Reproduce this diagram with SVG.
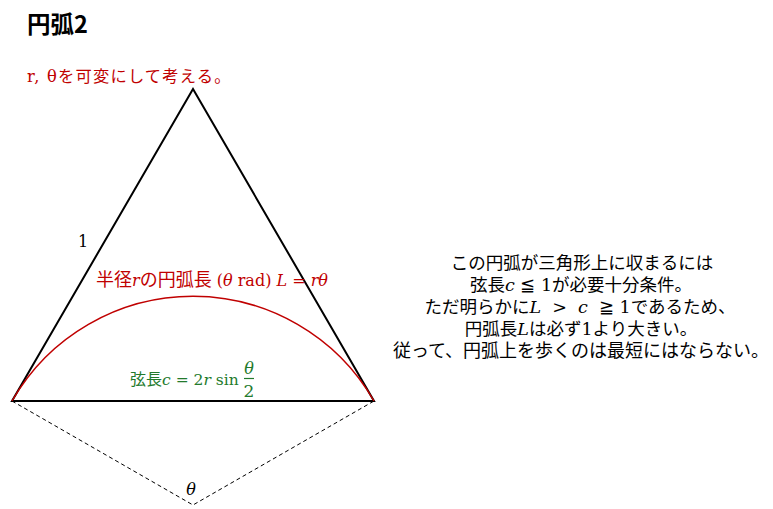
<svg xmlns="http://www.w3.org/2000/svg" width="773" height="509" viewBox="0 0 773 509">
<style>
.jp{font-family:"Noto Sans CJK JP","Noto Sans",sans-serif;}
.m{font-family:"DejaVu Serif","Liberation Serif",serif;font-style:italic;}
.mr{font-family:"DejaVu Serif","Liberation Serif",serif;font-style:normal;}
.red{fill:#c00000;}
.grn{fill:#237a2c;}
.edge{stroke:#000;stroke-width:2;fill:none;}
.dash{stroke:#000;stroke-width:1;fill:none;stroke-dasharray:4 3;}
.arc{stroke:#c00000;stroke-width:1.5;fill:none;}
</style>
<rect width="773" height="509" fill="#fff"/>
<g id="title"><text x="27" y="33" class="jp" font-size="23.5" font-weight="bold">円弧2</text></g>
<g id="note-top"><text x="27" y="82" font-size="16.3" class="red" letter-spacing="1.2"><tspan class="mr">r,&#160;θ</tspan><tspan class="jp">を可変にして考える。</tspan></text></g>
<g id="connectors">
<path class="edge" d="M12,401 L193,89 L374,401 Z"/>
<path class="dash" d="M12,401 L193,505 L374,401"/>
<path class="arc" d="M12,401 A208.75,208.75 0 0 1 374,401"/>
</g>
<g id="side-label"><text x="83" y="247" font-size="16" class="mr" text-anchor="middle">1</text></g>
<g id="arc-label"><text x="96" y="286" font-size="18" class="red"><tspan class="jp">半径</tspan><tspan class="m" font-size="16">r</tspan><tspan class="jp">の円弧長</tspan><tspan class="mr" font-size="16">&#160;(</tspan><tspan class="m" font-size="16">θ</tspan><tspan class="mr" font-size="16">&#160;rad)&#160;</tspan><tspan class="m" font-size="16">L</tspan><tspan class="mr" font-size="16">&#160;=&#160;</tspan><tspan class="m" font-size="16">rθ</tspan></text></g>
<g id="chord-label">
<text x="130" y="385" font-size="16" class="grn"><tspan class="jp">弦長</tspan><tspan class="m" font-size="15.5">c</tspan><tspan class="mr" font-size="15.5">&#160;=&#160;2</tspan><tspan class="m" font-size="15.5">r</tspan><tspan class="mr" font-size="15.5">&#160;sin</tspan></text>
<text x="249" y="374" font-size="16" class="grn m" text-anchor="middle">θ</text>
<line x1="244" y1="378.5" x2="254" y2="378.5" stroke="#237a2c" stroke-width="1.2"/>
<text x="249" y="397" font-size="17" class="grn mr" text-anchor="middle">2</text>
</g>
<g id="angle-label"><text x="191" y="495" font-size="16" class="m" text-anchor="middle">θ</text></g>
<g id="explanation" font-size="17.5" text-anchor="middle">
<text x="582" y="269" class="jp">この円弧が三角形上に収まるには</text>
<text x="581" y="291"><tspan class="jp">弦長</tspan><tspan class="m">c</tspan><tspan class="mr">&#160;≦&#160;1</tspan><tspan class="jp">が必要十分条件。</tspan></text>
<text x="580" y="313"><tspan class="jp">ただ明らかに</tspan><tspan class="m">L</tspan><tspan class="mr">&#160;&#160;&gt;&#160;&#160;</tspan><tspan class="m">c</tspan><tspan class="mr">&#160;&#160;≧&#160;1</tspan><tspan class="jp">であるため、</tspan></text>
<text x="581" y="335"><tspan class="jp">円弧長</tspan><tspan class="m">L</tspan><tspan class="jp">は必ず</tspan><tspan class="mr">1</tspan><tspan class="jp">より大きい。</tspan></text>
<text x="581" y="357" class="jp" font-size="18">従って、円弧上を歩くのは最短にはならない。</text>
</g>
</svg>
